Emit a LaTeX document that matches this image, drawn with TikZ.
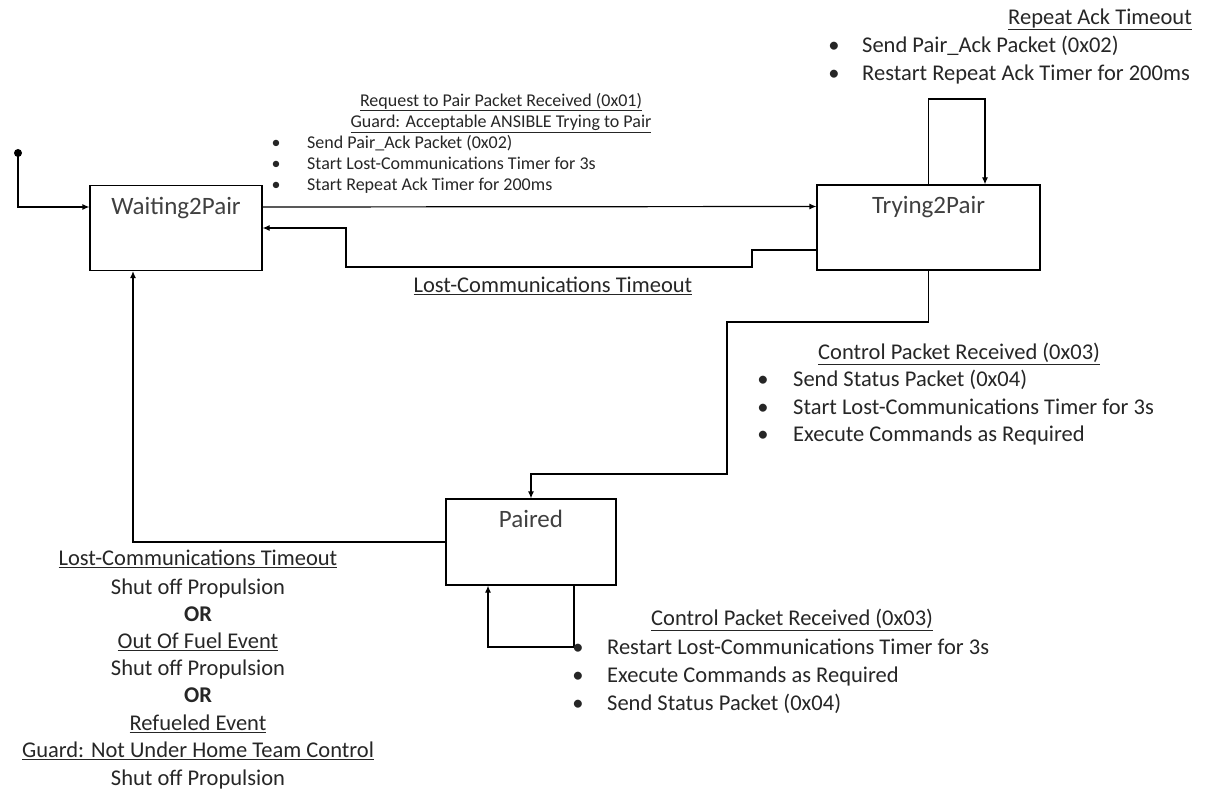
\documentclass[tikz,border=0pt]{standalone}
\usepackage{fontspec}
\setmainfont{Carlito}
\usetikzlibrary{arrows.meta}
\begin{document}
\begin{tikzpicture}
[x=1pt,y=-1pt,
  statedecorate/.style={shape=rectangle,draw,line width=1.2pt,inner sep=0pt},%
  namedecorate/.style={font=\fontsize{25}{28}\selectfont,text=black!75,anchor=mid},%
  linedecorate/.style={-{Latex[length=7pt,width=6pt]},line width=1.2pt},%
  dotdecorate/.style={shape=circle,fill,inner sep=0pt,minimum size=8pt},%
  textdecorate/.style={font=\fontsize{22.5}{27}\selectfont,text=black!85,inner sep=0pt,anchor=mid,yshift=-5pt},%
  smalldecorate/.style={font=\fontsize{18}{21}\selectfont,text=black!85,inner sep=0pt,anchor=mid,yshift=-4pt}]
\useasboundingbox (0,0) rectangle (1207,791);
%% states
\node (wait) at (176,228) [statedecorate,minimum width=172,minimum height=85] {};
\node (trying) at (928.5,227.5) [statedecorate,minimum width=223,minimum height=85] {};
\node (paired) at (531,542) [statedecorate,minimum width=170,minimum height=86] {};
\node (waitname) at ([yshift=-27pt]wait.north) [namedecorate] {Waiting2Pair};
\node (tryingname) at ([yshift=-27pt]trying.north) [namedecorate] {Trying2Pair};
\node (pairedname) at ([yshift=-27pt]paired.north) [namedecorate] {Paired};
\node (start) at (18,153) [dotdecorate] {};
%% transitions
\draw[linedecorate] (start.center) |- ([yshift=21pt]wait.west);
\draw[linedecorate] ([yshift=21pt]wait.east) -- ([yshift=21pt]trying.west);
\draw[linedecorate] (trying.west |- 0,250) -- (752,250) -- (752,267) -- (346,267) |- (wait.east);
\draw[linedecorate] (trying.north) |- (985,99) -- (trying.north -| 985,0);
\draw[linedecorate] (trying.south) -- (trying.south |- 0,322) -| (727,474) -| (paired.north);
\draw[linedecorate] (paired.south -| 574,0) -- (574,647) -| (paired.south -| 488,0);
\draw[linedecorate] (paired.west) -| (wait.south -| 133,0);
%% transition labels
\node (reqhead) at (501,100) [smalldecorate] {\underline{Request to Pair Packet Received (0x01)}};
\node (reqguard) at (501,121) [smalldecorate] {\underline{Guard: Acceptable ANSIBLE Trying to Pair}};
\foreach \y/\txt in {142/Send Pair\_Ack Packet (0x02), 163/Start Lost-Communications Timer for 3s,
  184/Start Repeat Ack Timer for 200ms} {
  \node (reqb\y) at (276,\y) [smalldecorate] {\textbullet};
  \node (reqt\y) at (307,\y) [smalldecorate,anchor=mid west] {\txt};
}
\node (rephead) at (1192,17) [textdecorate,anchor=mid east] {\underline{Repeat Ack Timeout}};
\foreach \y/\txt in {45/Send Pair\_Ack Packet (0x02), 73/Restart Repeat Ack Timer for 200ms} {
  \node (repb\y) at (834,\y) [textdecorate] {\textbullet};
  \node (rept\y) at (862,\y) [textdecorate,anchor=mid west] {\txt};
}
\node (losthead) at (553,285) [textdecorate] {\underline{Lost-Communications Timeout}};
\node (ctrlhead) at (818,352) [textdecorate,anchor=mid west] {\underline{Control Packet Received (0x03)}};
\foreach \y/\txt in {379/Send Status Packet (0x04), 407/Start Lost-Communications Timer for 3s,
  434/Execute Commands as Required} {
  \node (ctrlb\y) at (763,\y) [textdecorate] {\textbullet};
  \node (ctrlt\y) at (793,\y) [textdecorate,anchor=mid west] {\txt};
}
\node (loophead) at (651,618) [textdecorate,anchor=mid west] {\underline{Control Packet Received (0x03)}};
\foreach \y/\txt in {647/Restart Lost-Communications Timer for 3s, 675/Execute Commands as Required,
  703/Send Status Packet (0x04)} {
  \node (loopb\y) at (578,\y) [textdecorate] {\textbullet};
  \node (loopt\y) at (607,\y) [textdecorate,anchor=mid west] {\txt};
}
\foreach \y/\txt in {558/\underline{Lost-Communications Timeout}, 587/Shut off Propulsion,
  614/\textbf{OR}, 641/\underline{Out Of Fuel Event}, 668/Shut off Propulsion, 695/\textbf{OR},
  723/\underline{Refueled Event}, 750/\underline{Guard: Not Under Home Team Control},
  778/Shut off Propulsion} {
  \node (back\y) at (198,\y) [textdecorate] {\txt};
}
\end{tikzpicture}
\end{document}
